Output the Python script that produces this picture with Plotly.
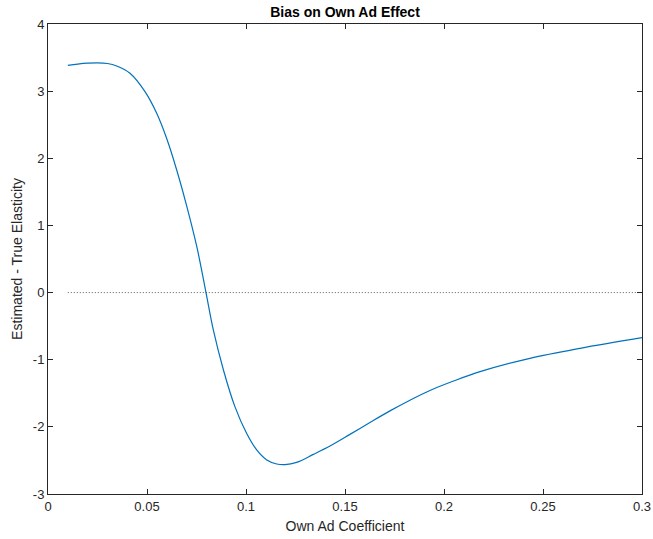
import plotly.graph_objects as go

# Data
own_ad_coef = [0.010, 0.015, 0.020, 0.025, 0.030, 0.0347, 0.0414, 0.049, 0.0549, 0.0599,
               0.065, 0.070, 0.0751, 0.0798, 0.0835, 0.0886, 0.0944, 0.1003, 0.1054,
               0.1105, 0.1155, 0.1197, 0.1256, 0.1340, 0.1424, 0.1525, 0.1626, 0.1727,
               0.1828, 0.1929, 0.2055, 0.2182, 0.2434, 0.2687, 0.300]
bias = [3.385, 3.403, 3.416, 3.422, 3.412, 3.375, 3.266, 2.992, 2.670, 2.298,
        1.826, 1.295, 0.69, 0.0, -0.557, -1.153, -1.699, -2.096, -2.344,
        -2.493, -2.553, -2.563, -2.528, -2.410, -2.285, -2.112, -1.935, -1.762,
        -1.603, -1.458, -1.310, -1.178, -0.979, -0.830, -0.672]
zero_x = [0.01, 0.30]
zero_y = [0, 0]

x_ticks = [0, 0.05, 0.1, 0.15, 0.2, 0.25, 0.3]
x_tick_labels = ["0", "0.05", "0.1", "0.15", "0.2", "0.25", "0.3"]
y_ticks = [-3, -2, -1, 0, 1, 2, 3, 4]
y_tick_labels = ["-3", "-2", "-1", "0", "1", "2", "3", "4"]

axis_color = "#262626"
font_family = "Liberation Sans, Arial, sans-serif"

fig = go.Figure()
fig.add_trace(go.Scatter(x=own_ad_coef, y=bias, mode="lines", line_shape="spline",
                         line=dict(color="#0072BD", width=1.2, smoothing=1.0),
                         showlegend=False))
fig.add_trace(go.Scatter(x=zero_x, y=zero_y, mode="lines",
                         line=dict(color="#333333", width=0.8, dash="1px,2px"),
                         showlegend=False))

axis_common = dict(showgrid=False, zeroline=False, showline=True, linecolor=axis_color,
                   linewidth=1, mirror="ticks", ticks="inside", ticklen=5, tickwidth=1,
                   tickcolor=axis_color, automargin=False,
                   tickfont=dict(family=font_family, size=13, color=axis_color))

fig.update_xaxes(range=[0, 0.3], tickvals=x_ticks, ticktext=x_tick_labels,
                 title=dict(text="Own Ad Coefficient", standoff=8,
                            font=dict(family=font_family, size=14, color=axis_color)),
                 **axis_common)
fig.update_yaxes(range=[-3, 4], tickvals=y_ticks, ticktext=y_tick_labels,
                 title=dict(text="Estimated - True Elasticity", standoff=6,
                            font=dict(family=font_family, size=14, color=axis_color)),
                 **axis_common)

fig.update_layout(
    width=653, height=539,
    margin=dict(l=48, r=11, t=24, b=45),
    paper_bgcolor="white", plot_bgcolor="white",
    title=dict(text="<b>Bias on Own Ad Effect</b>", x=0.5, xref="paper",
               y=1 - 12 / 539, yref="container", yanchor="middle",
               font=dict(family=font_family, size=14, color="black")),
)

fig.write_html("out.html", config={"displayModeBar": False},
               post_script="document.body.style.margin='0';document.body.style.overflow='hidden';")
